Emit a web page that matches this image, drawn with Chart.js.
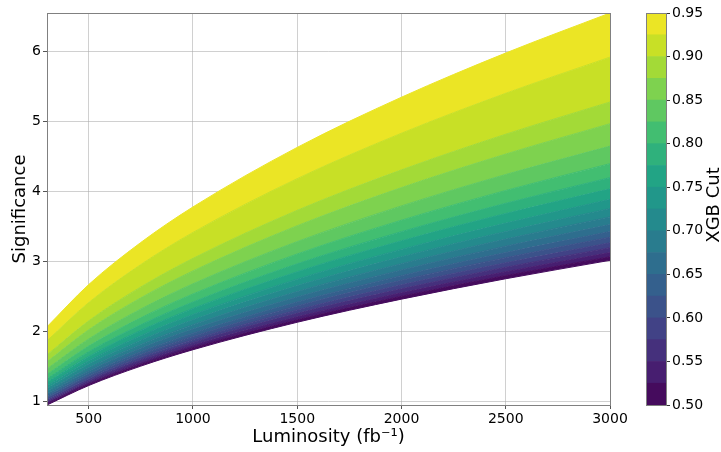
<!DOCTYPE html>
<html>
<head>
<meta charset="utf-8">
<script src="https://cdn.jsdelivr.net/npm/chart.js@4"></script>
<style>
  html, body { margin: 0; padding: 0; background: #fff; }
  #wrap { position: relative; width: 721px; height: 452px; }
  #main { position: absolute; left: 0; top: 0; }
  #cbar { position: absolute; left: 640px; top: 0; }
</style>
</head>
<body>
<div id="wrap">
  <canvas id="main" width="640" height="452"></canvas>
  <canvas id="cbar" width="81" height="452"></canvas>
</div>
<script>
'use strict';

// ─── Data ───────────────────────────────────────────────────────────────────
const lumi = [300, 500, 750, 1000, 1500, 2000, 2500, 3000];
const lumiTicks = [500, 1000, 1500, 2000, 2500, 3000];
const sigTicks = [1, 2, 3, 4, 5, 6];
const cutLevels = [0.500, 0.525, 0.550, 0.575, 0.600, 0.625, 0.650, 0.675, 0.700, 0.725,
                   0.750, 0.775, 0.800, 0.825, 0.850, 0.875, 0.900, 0.925, 0.950];
const cbTicks = [0.50, 0.55, 0.60, 0.65, 0.70, 0.75, 0.80, 0.85, 0.90, 0.95];

// significance of each cut boundary (0.50 → 0.95), one list per luminosity
const sig300  = [0.955, 0.971, 0.990, 1.012, 1.034, 1.059, 1.085, 1.116, 1.151, 1.189, 1.230, 1.278, 1.328, 1.391, 1.470, 1.572, 1.670, 1.872, 2.071];
const sig500  = [1.233, 1.253, 1.278, 1.306, 1.335, 1.368, 1.400, 1.441, 1.486, 1.535, 1.588, 1.649, 1.715, 1.796, 1.898, 2.029, 2.156, 2.417, 2.674];
const sig750  = [1.510, 1.535, 1.565, 1.600, 1.635, 1.675, 1.715, 1.765, 1.820, 1.880, 1.945, 2.020, 2.100, 2.200, 2.325, 2.485, 2.640, 2.960, 3.275];
const sig1000 = [1.744, 1.773, 1.807, 1.848, 1.888, 1.934, 1.980, 2.038, 2.102, 2.171, 2.246, 2.333, 2.425, 2.540, 2.685, 2.869, 3.048, 3.418, 3.782];
const sig1500 = [2.136, 2.171, 2.213, 2.263, 2.312, 2.369, 2.425, 2.496, 2.574, 2.659, 2.751, 2.857, 2.970, 3.111, 3.288, 3.514, 3.734, 4.186, 4.632];
const sig2000 = [2.466, 2.507, 2.556, 2.613, 2.670, 2.735, 2.801, 2.882, 2.972, 3.070, 3.176, 3.299, 3.429, 3.593, 3.797, 4.058, 4.311, 4.834, 5.348];
const sig2500 = [2.757, 2.803, 2.857, 2.921, 2.985, 3.058, 3.131, 3.222, 3.323, 3.432, 3.551, 3.688, 3.834, 4.017, 4.245, 4.537, 4.820, 5.404, 5.979];
const sig3000 = [3.020, 3.070, 3.130, 3.200, 3.270, 3.350, 3.430, 3.530, 3.640, 3.760, 3.890, 4.040, 4.200, 4.400, 4.650, 4.970, 5.280, 5.920, 6.550];

const sigColumns = [sig300, sig500, sig750, sig1000, sig1500, sig2000, sig2500, sig3000];

// ─── viridis ────────────────────────────────────────────────────────────────
const VIRIDIS = [
  [68, 1, 84], [72, 36, 117], [65, 68, 135], [53, 95, 141], [42, 120, 142],
  [33, 145, 140], [34, 168, 132], [68, 191, 112], [122, 209, 81], [189, 223, 38], [253, 231, 37],
];
function viridis(t) {
  const s = Math.max(0, Math.min(1, t)) * 10;
  const i = Math.min(9, Math.floor(s));
  const f = s - i;
  const a = VIRIDIS[i], b = VIRIDIS[i + 1];
  const c = a.map((v, k) => Math.round(v + (b[k] - v) * f));
  return `rgb(${c[0]},${c[1]},${c[2]})`;
}
const nBands = cutLevels.length - 1;
const bandColors = [];
for (let i = 0; i < nBands; i++) bandColors.push(viridis((i + 0.5) / nBands));

Chart.defaults.font.family = "'DejaVu Sans', sans-serif";
Chart.defaults.color = '#000';
Chart.defaults.animation = false;

// ─── Main contour-like chart ───────────────────────────────────────────────
const datasets = cutLevels.map((cut, k) => ({
  label: 'cut ' + cut.toFixed(3),
  data: lumi.map((L, j) => ({ x: L, y: sigColumns[j][k] })),
  fill: k === 0 ? false : '-1',
  backgroundColor: k === 0 ? 'transparent' : bandColors[k - 1],
  borderColor: k === 0 ? bandColors[0] : bandColors[k - 1],
  borderWidth: 1,
  pointRadius: 0,
  cubicInterpolationMode: 'monotone',
}));

const frame = {
  id: 'frame',
  afterDraw(chart) {
    const { ctx, chartArea: a } = chart;
    ctx.save();
    ctx.strokeStyle = '#808080';
    ctx.lineWidth = 1;
    ctx.strokeRect(Math.round(a.left) + 0.5, Math.round(a.top) + 0.5,
                   Math.round(a.right - a.left), Math.round(a.bottom - a.top));
    ctx.restore();
  },
};

new Chart(document.getElementById('main'), {
  type: 'line',
  data: { datasets },
  options: {
    responsive: false,
    devicePixelRatio: 1,
    layout: { padding: { top: 13, right: 30, left: 0, bottom: 0 } },
    plugins: { legend: { display: false }, tooltip: { enabled: false } },
    scales: {
      x: {
        type: 'linear', min: 300, max: 3000, z: 1,
        afterBuildTicks(s) { s.ticks = lumiTicks.map(v => ({ value: v })); },
        ticks: { font: { size: 14 }, padding: 2, maxRotation: 0, autoSkip: false, callback: v => String(v) },
        grid: { color: 'rgba(170,170,170,0.55)', tickColor: '#555', tickLength: 4 },
        border: { display: false },
        title: { display: true, text: 'Luminosity (fb⁻¹)', font: { size: 18 }, padding: { top: 0, bottom: 4 } },
        afterFit(s) { s.height = 47; },
      },
      y: {
        type: 'linear', min: 0.955, max: 6.55, z: 1,
        afterBuildTicks(s) { s.ticks = sigTicks.map(v => ({ value: v })); },
        ticks: { font: { size: 14 }, padding: 2, autoSkip: false, callback: v => String(v) },
        grid: { color: 'rgba(170,170,170,0.55)', tickColor: '#555', tickLength: 4 },
        border: { display: false },
        title: { display: true, text: 'Significance', font: { size: 18 }, padding: { top: 10, bottom: 0 } },
        afterFit(s) { s.width = 47; },
      },
    },
  },
  plugins: [frame],
});

// ─── Colour bar ────────────────────────────────────────────────────────────
const cbLabel = {
  id: 'cbLabel',
  afterDraw(chart) {
    const { ctx } = chart;
    ctx.save();
    ctx.translate(74, 205);
    ctx.rotate(-Math.PI / 2);
    ctx.font = "18px 'DejaVu Sans', sans-serif";
    ctx.fillStyle = '#000';
    ctx.textAlign = 'center';
    ctx.textBaseline = 'middle';
    ctx.fillText('XGB Cut', 0, 0);
    ctx.restore();
  },
};

new Chart(document.getElementById('cbar'), {
  type: 'bar',
  data: {
    labels: [''],
    datasets: bandColors.map((c, i) => ({
      data: [[cutLevels[i], cutLevels[i + 1]]],
      backgroundColor: c,
      borderWidth: 0,
      barPercentage: 1,
      categoryPercentage: 1,
    })),
  },
  options: {
    responsive: false,
    devicePixelRatio: 1,
    layout: { padding: { top: 13, bottom: 47, left: 6, right: 0 } },
    plugins: { legend: { display: false }, tooltip: { enabled: false } },
    scales: {
      x: { display: false, stacked: true },
      y: {
        position: 'right', min: 0.5, max: 0.95, stacked: false,
        afterBuildTicks(s) { s.ticks = cbTicks.map(v => ({ value: v })); },
        ticks: { font: { size: 14 }, padding: 2, autoSkip: false, callback: v => Number(v).toFixed(2) },
        grid: { drawOnChartArea: false, tickColor: '#333', tickLength: 4 },
        border: { display: false },
        afterFit(s) { s.width = 55; },
      },
    },
  },
  plugins: [frame, cbLabel],
});
</script>
</body>
</html>
